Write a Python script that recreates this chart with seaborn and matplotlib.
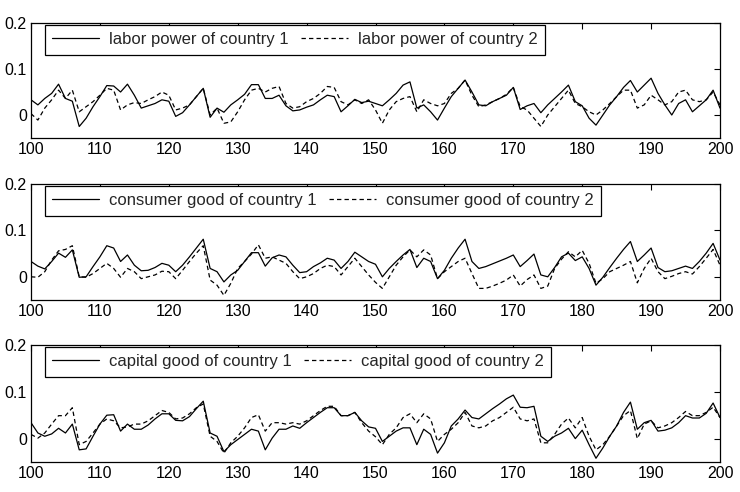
import matplotlib
matplotlib.use("Agg")
import matplotlib.pyplot as plt
import numpy as np
import pandas as pd
import seaborn as sns

periods = list(range(100, 201))

labor_1 = [0.033, 0.022, 0.036, 0.047, 0.067, 0.036, 0.030, -0.025, -0.007, 0.018,
           0.040, 0.064, 0.063, 0.050, 0.067, 0.043, 0.015, 0.020, 0.025, 0.033,
           0.030, -0.003, 0.005, 0.022, 0.040, 0.058, -0.005, 0.015, 0.006, 0.022,
           0.033, 0.045, 0.066, 0.066, 0.036, 0.036, 0.043, 0.020, 0.009, 0.011,
           0.017, 0.022, 0.033, 0.043, 0.040, 0.007, 0.020, 0.034, 0.027, 0.030,
           0.025, 0.020, 0.033, 0.047, 0.065, 0.072, 0.015, 0.022, 0.007, -0.011,
           0.015, 0.040, 0.058, 0.076, 0.050, 0.022, 0.020, 0.029, 0.036, 0.043,
           0.060, 0.012, 0.020, 0.025, 0.005, 0.022, 0.036, 0.050, 0.065, 0.029,
           0.020, -0.007, -0.022, 0.000, 0.022, 0.040, 0.060, 0.075, 0.050, 0.065,
           0.080, 0.047, 0.022, 0.000, 0.025, 0.033, 0.007, 0.020, 0.033, 0.054,
           0.015]
labor_2 = [0.003, -0.011, 0.015, 0.033, 0.054, 0.036, 0.054, 0.007, 0.018, 0.029,
           0.043, 0.058, 0.054, 0.011, 0.022, 0.027, 0.025, 0.033, 0.040, 0.050,
           0.043, 0.011, 0.015, 0.022, 0.040, 0.058, 0.000, 0.015, -0.018, -0.015,
           0.007, 0.033, 0.054, 0.058, 0.050, 0.058, 0.062, 0.025, 0.015, 0.018,
           0.029, 0.036, 0.047, 0.062, 0.060, 0.029, 0.022, 0.033, 0.025, 0.033,
           0.011, -0.018, 0.011, 0.029, 0.036, 0.040, 0.007, 0.033, 0.025, 0.020,
           0.025, 0.047, 0.058, 0.076, 0.043, 0.018, 0.022, 0.029, 0.036, 0.045,
           0.060, 0.018, 0.011, -0.007, -0.025, 0.000, 0.018, 0.036, 0.054, 0.025,
           0.018, 0.007, 0.000, 0.011, 0.025, 0.040, 0.054, 0.054, 0.015, 0.022,
           0.043, 0.033, 0.022, 0.029, 0.050, 0.054, 0.033, 0.029, 0.033, 0.050,
           0.022]

consumer_1 = [0.033, 0.023, 0.017, 0.033, 0.051, 0.042, 0.058, -0.001, 0.000, 0.022,
              0.043, 0.067, 0.062, 0.033, 0.047, 0.025, 0.013, 0.014, 0.020, 0.029,
              0.025, 0.011, 0.025, 0.043, 0.062, 0.081, 0.018, 0.011, -0.011, 0.004,
              0.014, 0.033, 0.052, 0.052, 0.023, 0.041, 0.047, 0.043, 0.025, 0.009,
              0.011, 0.022, 0.030, 0.040, 0.036, 0.018, 0.033, 0.053, 0.043, 0.033,
              0.027, 0.000, 0.018, 0.033, 0.047, 0.059, 0.020, 0.040, 0.033, -0.004,
              0.014, 0.040, 0.062, 0.081, 0.033, 0.018, 0.022, 0.028, 0.034, 0.040,
              0.047, 0.022, 0.035, 0.049, 0.004, 0.000, 0.020, 0.043, 0.051, 0.035,
              0.043, 0.018, -0.018, -0.001, 0.020, 0.040, 0.059, 0.076, 0.033, 0.047,
              0.062, 0.020, 0.011, 0.013, 0.018, 0.023, 0.018, 0.033, 0.051, 0.072,
              0.036]
consumer_2 = [0.000, -0.001, 0.011, 0.036, 0.056, 0.059, 0.067, 0.000, -0.001, 0.007,
              0.018, 0.029, 0.018, -0.001, 0.018, 0.011, -0.004, 0.000, 0.004, 0.012,
              0.011, -0.004, 0.014, 0.033, 0.051, 0.067, -0.007, -0.018, -0.040, -0.014,
              0.018, 0.033, 0.049, 0.069, 0.040, 0.043, 0.036, 0.029, 0.011, -0.004,
              0.000, 0.007, 0.018, 0.025, 0.022, 0.004, 0.022, 0.040, 0.022, 0.004,
              -0.012, -0.025, 0.000, 0.025, 0.043, 0.058, 0.043, 0.058, 0.047, -0.004,
              0.011, 0.022, 0.033, 0.040, 0.007, -0.025, -0.025, -0.020, -0.014, -0.007,
              0.004, -0.020, -0.006, 0.004, -0.025, -0.020, 0.018, 0.038, 0.054, 0.043,
              0.057, 0.029, -0.014, -0.004, 0.011, 0.018, 0.025, 0.033, -0.013, 0.018,
              0.040, 0.011, -0.004, 0.001, 0.007, 0.011, 0.006, 0.022, 0.040, 0.059,
              0.025]

capital_1 = [0.034, 0.012, 0.005, 0.010, 0.022, 0.012, 0.031, -0.024, -0.022, 0.005,
             0.031, 0.050, 0.051, 0.016, 0.031, 0.020, 0.020, 0.029, 0.042, 0.053,
             0.053, 0.039, 0.038, 0.047, 0.064, 0.080, 0.012, 0.005, -0.028, -0.013,
             -0.002, 0.009, 0.020, 0.016, -0.024, 0.001, 0.020, 0.020, 0.027, 0.022,
             0.034, 0.045, 0.056, 0.066, 0.066, 0.049, 0.049, 0.056, 0.038, 0.025,
             0.022, -0.006, 0.005, 0.016, 0.023, 0.023, -0.013, 0.020, 0.009, -0.031,
             -0.009, 0.027, 0.042, 0.061, 0.045, 0.042, 0.053, 0.064, 0.074, 0.085,
             0.093, 0.067, 0.066, 0.069, 0.005, -0.006, 0.005, 0.012, 0.022, 0.000,
             0.018, -0.013, -0.042, -0.020, 0.005, 0.027, 0.056, 0.078, 0.020, 0.034,
             0.039, 0.016, 0.018, 0.023, 0.034, 0.049, 0.044, 0.044, 0.054, 0.076,
             0.045]
capital_2 = [0.009, 0.001, 0.012, 0.031, 0.049, 0.049, 0.066, -0.013, -0.006, 0.012,
             0.031, 0.042, 0.038, 0.023, 0.025, 0.031, 0.031, 0.038, 0.049, 0.060,
             0.056, 0.042, 0.044, 0.053, 0.066, 0.074, 0.005, -0.006, -0.031, -0.009,
             0.005, 0.023, 0.045, 0.051, 0.016, 0.034, 0.034, 0.031, 0.034, 0.031,
             0.038, 0.049, 0.060, 0.069, 0.069, 0.049, 0.049, 0.056, 0.034, 0.016,
             0.004, -0.013, 0.009, 0.023, 0.045, 0.053, 0.034, 0.053, 0.042, -0.006,
             0.009, 0.020, 0.034, 0.056, 0.027, 0.023, 0.027, 0.038, 0.045, 0.056,
             0.067, 0.042, 0.038, 0.042, -0.009, -0.009, 0.009, 0.031, 0.044, 0.023,
             0.045, 0.005, -0.024, -0.013, 0.005, 0.027, 0.049, 0.060, 0.000, 0.031,
             0.038, 0.023, 0.027, 0.034, 0.045, 0.058, 0.049, 0.049, 0.056, 0.067,
             0.045]

labels = [("labor power of country 1", "labor power of country 2"),
          ("consumer good of country 1", "consumer good of country 2"),
          ("capital good of country 1", "capital good of country 2")]
series = [(labor_1, labor_2), (consumer_1, consumer_2), (capital_1, capital_2)]

xticks = list(range(100, 201, 10))
yticks = [0, 0.1, 0.2]
ytick_labels = ["0", "0.1", "0.2"]

sns.set_style("white")
plt.rcParams["font.family"] = ["Liberation Sans", "DejaVu Sans"]

W, H = 740, 492
fig = plt.figure(figsize=(W / 100, H / 100), dpi=100)
boxes = [(23, 138), (184, 300), (345, 462)]
left, right = 31, 720

for (top, bot), (s1, s2), (l1, l2) in zip(boxes, series, labels):
    ax = fig.add_axes([left / W, 1 - bot / H, (right - left) / W, (bot - top) / H])
    df = pd.DataFrame({"t": periods, "a": s1, "b": s2})
    sns.lineplot(data=df, x="t", y="a", ax=ax, color="black", linewidth=0.9, label=l1)
    sns.lineplot(data=df, x="t", y="b", ax=ax, color="black", linewidth=0.9,
                 linestyle=(0, (3.5, 2.5)), label=l2)
    ax.set_xlim(100, 200)
    ax.set_ylim(-0.05, 0.2)
    ax.set_xticks(xticks)
    ax.set_yticks(yticks)
    ax.set_yticklabels(ytick_labels)
    ax.set_xlabel("")
    ax.set_ylabel("")
    ax.tick_params(direction="in", top=True, right=True, length=4, width=0.8,
                   labelsize=11.5, colors="black", pad=3)
    for sp in ax.spines.values():
        sp.set_color("black")
        sp.set_linewidth(0.9)
    leg = ax.legend(loc="upper left", bbox_to_anchor=(0.02, 0.985), ncol=2,
                    frameon=True, fancybox=False, edgecolor="black",
                    borderaxespad=0, fontsize=12, handlelength=2.8,
                    handletextpad=0.6, columnspacing=0.75, borderpad=0.45)
    leg.get_frame().set_linewidth(0.9)
    leg.get_frame().set_alpha(1)

fig.savefig("out.png", dpi=100, facecolor="white")
